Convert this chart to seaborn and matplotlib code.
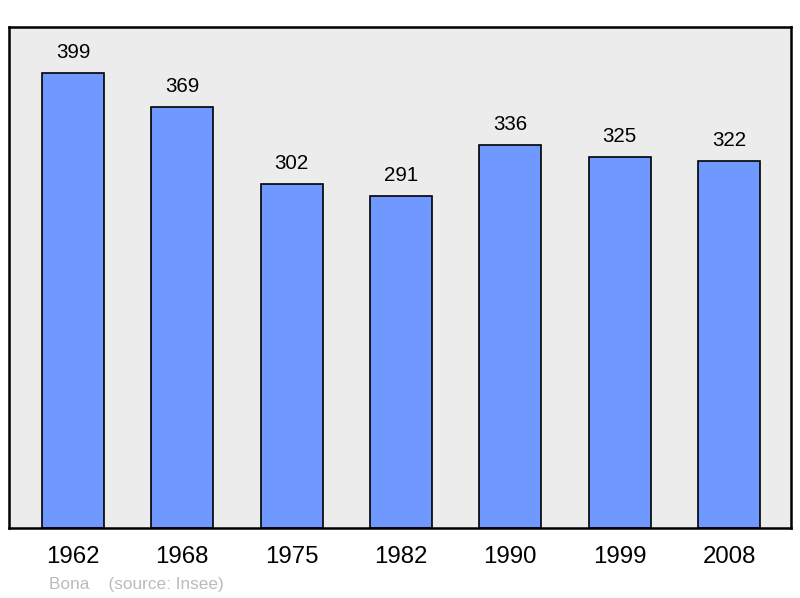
import matplotlib
matplotlib.use("Agg")
import matplotlib.pyplot as plt
import seaborn as sns
import pandas as pd

years = ["1962", "1968", "1975", "1982", "1990", "1999", "2008"]
population = [399, 369, 302, 291, 336, 325, 322]

sns.set_style("white")
plt.rcParams["font.family"] = ["Liberation Sans", "DejaVu Sans"]

df = pd.DataFrame({"year": years, "pop": population})

fig = plt.figure(figsize=(8, 5.98), dpi=100)
ax = fig.add_axes([9 / 800, 1 - 528 / 598, 782 / 800, 501 / 598])
ax.set_facecolor("#ececec")

sns.barplot(data=df, x="year", y="pop", color="#7099ff", saturation=1,
            width=0.567, edgecolor="black", linewidth=1.2, ax=ax)

# value labels above the bars
for i, v in enumerate(population):
    ax.text(i, v + 18, str(v), ha="center", va="center", fontsize=14.8, color="black")

ax.set_xlim(-0.585, 6.567)
ax.set_ylim(0, 439.3)
ax.set_xlabel("")
ax.set_ylabel("")
ax.set_yticks([])
ax.tick_params(axis="x", length=0, pad=13, labelsize=17.3, labelcolor="black")
for s in ax.spines.values():
    s.set_color("black")
    s.set_linewidth(1.8)

fig.text(49 / 800, 1 - 584 / 598, "Bona    (source: Insee)", fontsize=12.4,
         color="#bbbbbb", ha="left", va="center")

fig.savefig("out.png", dpi=100)
